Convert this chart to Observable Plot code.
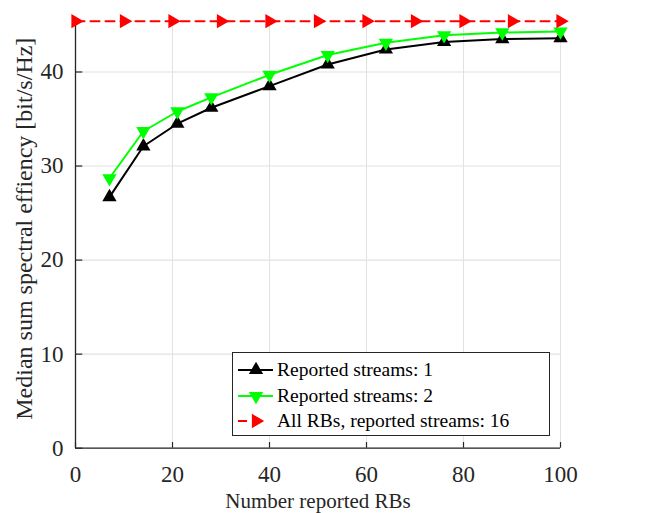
<!DOCTYPE html>
<html>
<head>
<meta charset="utf-8">
<script src="https://cdn.jsdelivr.net/npm/d3@7"></script>
<script src="https://cdn.jsdelivr.net/npm/@observablehq/plot@0.6"></script>
<style>
  body { margin: 0; background: #fff; }
  #wrap { position: relative; width: 660px; height: 513px; font-family: "Liberation Serif", serif; }
  #legend { position: absolute; left: 232px; top: 352px; width: 316px; height: 82px; border: 1px solid #262626; background: #fff; }
  .row { position: absolute; left: 0; height: 26px; display: flex; align-items: center; font-family: "Liberation Serif", serif; font-size: 19.5px; color: #000; white-space: nowrap; }
  .row svg { margin-left: 5px; margin-right: 4px; }
  svg text { font-family: "Liberation Serif", serif !important; }
</style>
</head>
<body>
<div id="wrap"></div>
<script>
// ---- data ----
const rbs = [7, 14, 21, 28, 40, 52, 64, 76, 88, 100];
const streams1 = [26.7, 32.1, 34.5, 36.2, 38.5, 40.8, 42.4, 43.2, 43.5, 43.6];
const streams2 = [28.7, 33.7, 35.8, 37.3, 39.7, 41.8, 43.1, 43.9, 44.2, 44.3];
const allRBsX = [0, 10, 20, 30, 40, 50, 60, 70, 80, 90, 100];
const allRBsValue = 45.4;
const xTicks = [0, 20, 40, 60, 80, 100];
const yTicks = [0, 10, 20, 30, 40];
const xLabel = "Number reported RBs";
const yLabel = "Median sum spectral effiency [bit/s/Hz]";
const seriesNames = ["Reported streams: 1", "Reported streams: 2", "All RBs, reported streams: 16"];

const s1 = rbs.map((x, i) => ({x, y: streams1[i]}));
const s2 = rbs.map((x, i) => ({x, y: streams2[i]}));
const s3 = allRBsX.map(x => ({x, y: allRBsValue}));

const FONT = "Liberation Serif";
const axisColor = "#262626";
const gridColor = "#e2e2e2";
const R = 5.3;

const chart = Plot.plot({
  width: 660,
  height: 513,
  marginLeft: 75,
  marginRight: 100,
  marginTop: 20.7,
  marginBottom: 65.3,
  x: {domain: [0, 100]},
  y: {domain: [0, allRBsValue]},
  style: {fontFamily: FONT, fontSize: "23px", color: axisColor, background: "#fff"},
  marks: [
    Plot.gridX(xTicks, {stroke: gridColor, strokeOpacity: 1, strokeWidth: 1.1}),
    Plot.gridY(yTicks, {stroke: gridColor, strokeOpacity: 1, strokeWidth: 1.1}),
    Plot.ruleX(xTicks, {x: d => d, y1: 0, y2: 0.6, stroke: axisColor, strokeWidth: 1.2}),
    Plot.ruleY(yTicks, {y: d => d, x1: 0, x2: 1.5, stroke: axisColor, strokeWidth: 1.2}),
    Plot.ruleY([0], {x1: 0, x2: 100, stroke: axisColor, strokeWidth: 1.3}),
    Plot.ruleX([0], {y1: 0, y2: allRBsValue, stroke: axisColor, strokeWidth: 1.3}),
    Plot.axisX(xTicks, {tickSize: 0, tickPadding: 17, label: null, fill: axisColor, fontFamily: FONT, fontSize: 23}),
    Plot.axisY(yTicks, {tickSize: 0, tickPadding: 12, label: null, fill: axisColor, fontFamily: FONT, fontSize: 23}),
    Plot.line(s1, {x: "x", y: "y", stroke: "#000", strokeWidth: 2}),
    Plot.dot(s1, {x: "x", y: "y", symbol: "triangle", r: R, fill: "#000", stroke: "none"}),
    Plot.line(s2, {x: "x", y: "y", stroke: "#00ff00", strokeWidth: 2}),
    Plot.dot(s2, {x: "x", y: "y", symbol: "triangle", rotate: 180, r: R, fill: "#00ff00", stroke: "none"}),
    Plot.line(s3, {x: "x", y: "y", stroke: "#ff0000", strokeWidth: 2, strokeDasharray: "9,6"}),
    Plot.dot(s3, {x: "x", y: "y", symbol: "triangle", rotate: 90, r: R, fill: "#ff0000", stroke: "none"}),
    Plot.text([xLabel], {text: d => d, frameAnchor: "bottom", textAnchor: "middle", lineAnchor: "middle", dy: 53, fontSize: 21, fontFamily: FONT, fill: axisColor}),
    Plot.text([yLabel], {text: d => d, frameAnchor: "left", textAnchor: "middle", lineAnchor: "middle", rotate: -90, dx: -51, dy: -6, fontSize: 24, fontFamily: FONT, fill: axisColor})
  ]
});
const wrap = document.getElementById("wrap");
wrap.appendChild(chart);

// ---- legend (HTML overlay) ----
const legend = document.createElement("div");
legend.id = "legend";
const symArea = Math.PI * R * R;
const tri = d3.symbol(d3.symbolTriangle, symArea)();
const legendItems = [
  {name: seriesNames[0], color: "#000", rot: 0, dash: null},
  {name: seriesNames[1], color: "#00ff00", rot: 180, dash: null},
  {name: seriesNames[2], color: "#ff0000", rot: 90, dash: true}
];
legendItems.forEach((it, i) => {
  const row = document.createElement("div");
  row.className = "row";
  row.style.top = (4 + i * 25.7) + "px";
  const line = it.dash
    ? `<line x1="0" y1="13" x2="9" y2="13" stroke="${it.color}" stroke-width="2"/>`
    : `<line x1="0" y1="13" x2="35" y2="13" stroke="${it.color}" stroke-width="2"/>`;
  row.innerHTML = `<svg width="35" height="26">${line}<path d="${tri}" transform="translate(18,13) rotate(${it.rot})" fill="${it.color}"/></svg><span>${it.name}</span>`;
  legend.appendChild(row);
});
wrap.appendChild(legend);
</script>
</body>
</html>
